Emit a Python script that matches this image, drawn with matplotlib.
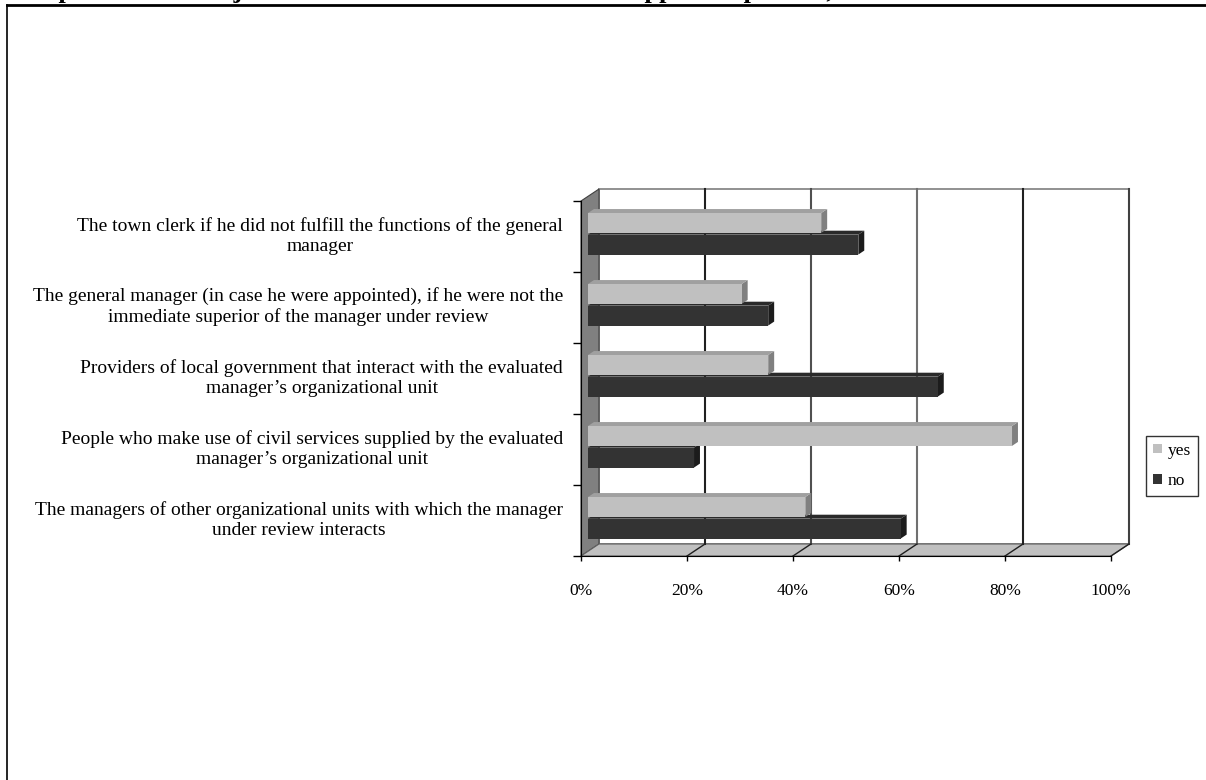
import matplotlib
matplotlib.use('Agg')
import matplotlib.pyplot as plt
from matplotlib.patches import Polygon
from matplotlib.lines import Line2D

# ---- data (top to bottom as shown) ----
categories = [
    "The town clerk if he did not fulfill the functions of the general\nmanager",
    "The general manager (in case he were appointed), if he were not the\nimmediate superior of the manager under review",
    "Providers of local government that interact with the evaluated\nmanager\u2019s organizational unit",
    "People who make use of civil services supplied by the evaluated\nmanager\u2019s organizational unit",
    "The managers of other organizational units with which the manager\nunder review interacts",
]
yes_values = [44, 29, 34, 80, 41]
no_values = [51, 34, 66, 20, 59]
series_names = ["yes", "no"]
x_ticks = [0, 20, 40, 60, 80, 100]
x_tick_labels = ["0%", "20%", "40%", "60%", "80%", "100%"]
title_text = "Proposal of the subjects who should be involved in the appraisal process, in %"

plt.rcParams['font.family'] = ['Liberation Serif', 'DejaVu Serif']

W, H = 1206, 780
fig = plt.figure(figsize=(W / 100, H / 100), dpi=100)
ax = fig.add_axes([581 / W, 224 / H, 530 / W, 355 / H])
ax.set_xlim(0, 100)
ax.set_ylim(0, 5)

# depth projection (pixels per full depth -> data units)
KX = 18 * 100 / 530
KY = 12 * 5 / 355


def P(x, y, d):
    return (x + d * KX, y + d * KY)


def poly(pts, fc, ec='none', lw=0.0, z=1):
    ax.add_patch(Polygon(pts, closed=True, facecolor=fc, edgecolor=ec,
                         linewidth=lw, zorder=z, clip_on=False))


def line(p1, p2, color='black', lw=1.0, z=2):
    ax.add_line(Line2D([p1[0], p2[0]], [p1[1], p2[1]], color=color,
                       linewidth=lw, zorder=z, clip_on=False))


xmax = x_ticks[-1]
ntop = len(categories)

# back wall
poly([P(0, 0, 1), P(xmax, 0, 1), P(xmax, ntop, 1), P(0, ntop, 1)], 'white', '#909090', 1.4, 0.5)
# left wall
poly([P(0, 0, 0), P(0, 0, 1), P(0, ntop, 1), P(0, ntop, 0)], '#808080', '#404040', 0.8, 0.6)
# floor
poly([P(0, 0, 0), P(xmax, 0, 0), P(xmax, 0, 1), P(0, 0, 1)], '#C0C0C0', '#606060', 0.8, 0.6)

# gridlines on back wall and floor
grid_cols = ['#202020', '#505050', '#707070', '#202020', '#404040']
for xt, gc in zip(x_ticks[1:], grid_cols):
    line(P(xt, 0, 1), P(xt, ntop, 1), gc, 1.5, 0.8)
    line(P(xt, 0, 0), P(xt, 0, 1), '#202020', 1.0, 0.8)

# bars
DF, DB = 0.39, 0.72
h = 0.28
yes_col = ('#C0C0C0', '#A0A0A0', '#808080')
no_col = ('#333333', '#2A2A2A', '#1C1C1C')

n = len(categories)
handles = {}
z = 2
for r in range(n):  # r = 0 bottom row
    idx = n - 1 - r
    for name, vals, cols, off in (("no", no_values, no_col, 0.32),
                                  ("yes", yes_values, yes_col, 0.625)):
        v = vals[idx]
        c = r + off
        y0, y1 = c - h / 2, c + h / 2
        # side face
        poly([P(v, y0, DF), P(v, y1, DF), P(v, y1, DB), P(v, y0, DB)], cols[2], z=z)
        # top face
        poly([P(0, y1, DF), P(v, y1, DF), P(v, y1, DB), P(0, y1, DB)], cols[1], z=z)
        # front face
        b = ax.barh(c + DF * KY, v, height=h, left=DF * KX, color=cols[0],
                    zorder=z + 0.1, label=name, clip_on=False)
        handles[name] = b
        z += 0.2

# axes styling
for s in ['top', 'right']:
    ax.spines[s].set_visible(False)
ax.spines['left'].set_color('black')
ax.spines['bottom'].set_color('black')
ax.spines['left'].set_zorder(5)
ax.spines['bottom'].set_zorder(5)
ax.patch.set_visible(False)

ax.set_xticks(x_ticks)
ax.set_xticklabels(x_tick_labels, fontsize=12.5)
ax.tick_params(axis='x', length=3.5, width=1, pad=16, color='black')

ax.set_yticks(range(n + 1))
ax.set_yticklabels([])
ax.tick_params(axis='y', which='major', length=6, width=1)
ax.set_yticks([r + 0.56 for r in range(n)], minor=True)
ax.set_yticklabels(categories[::-1], minor=True, fontsize=14)
ax.tick_params(axis='y', which='minor', length=0, pad=13)
for t in ax.get_yticklabels(minor=True):
    t.set_multialignment('center')
    t.set_linespacing(1.22)

# legend
leg = fig.legend([handles['yes'], handles['no']], series_names, loc='center',
                 bbox_to_anchor=(1172 / W, 1 - 466 / H), fontsize=12.5,
                 frameon=True, fancybox=False, handlelength=0.5, handleheight=0.5,
                 handletextpad=0.3, labelspacing=0.85, borderpad=0.4,
                 borderaxespad=0)
leg.get_frame().set_edgecolor('black')
leg.get_frame().set_linewidth(1.0)

# page frame and clipped title
fig.add_artist(Line2D([7 / W, 1], [1 - 5 / H, 1 - 5 / H], transform=fig.transFigure,
                      color='black', linewidth=2))
fig.add_artist(Line2D([7 / W, 7 / W], [0, 1 - 5 / H], transform=fig.transFigure,
                      color='black', linewidth=1.2))
fig.text(18 / W, 1 + 2 / H, title_text, fontsize=19, fontweight='bold', va='baseline', ha='left')

fig.savefig('out.png', dpi=100)
